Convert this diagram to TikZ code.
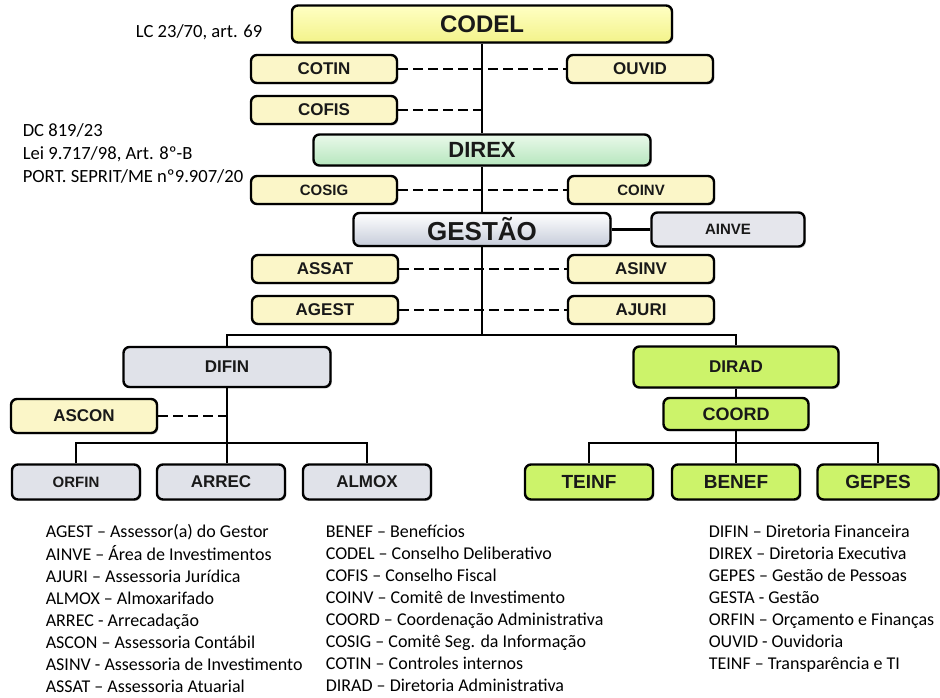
\documentclass[tikz,border=0pt]{standalone}
\usepackage{fontspec}
\setmainfont{Carlito}
\newfontfamily\boxfont{Liberation Sans}
\usepackage{tikz}
\usetikzlibrary{positioning,shadows}
\definecolor{cream}{HTML}{FBF6C8}
\definecolor{codeltop}{HTML}{FFFFC4}
\definecolor{codelbot}{HTML}{F3F38A}
\definecolor{dirextop}{HTML}{EAF9EA}
\definecolor{direxbot}{HTML}{B6E6BE}
\definecolor{gesttop}{HTML}{FFFFFF}
\definecolor{gestbot}{HTML}{C6CCDA}
\definecolor{greybox}{HTML}{E0E2E9}
\definecolor{limebox}{HTML}{CCF36A}
\newcommand\boxtxt[1]{\boxfont\bfseries\fontsize{#1}{#1}\selectfont}

\begin{document}
\begin{tikzpicture}[x=0.5pt,y=-0.5pt,thick,inner sep=0pt]
\tikzstyle{unit}=[rectangle,draw,rounded corners=3pt,line width=1.2pt,text=black!90,
  drop shadow={shadow xshift=0.7pt,shadow yshift=-0.7pt,fill=black!35}]
\tikzstyle{small}=[unit,fill=cream,minimum width=73pt,minimum height=14pt,font=\boxtxt{8.5}]
\tikzstyle{grey}=[unit,fill=greybox,minimum width=64pt,minimum height=17.5pt,font=\boxtxt{8.5}]
\tikzstyle{lime}=[unit,fill=limebox,minimum width=64pt,minimum height=17.5pt,font=\boxtxt{9.5}]
\tikzstyle{link}=[line width=1.1pt]
\tikzstyle{aide}=[line width=1.1pt,dash pattern=on 5pt off 2.5pt]
\tikzstyle{note}=[font=\fontsize{9.3}{11.5}\selectfont,align=left]
\tikzstyle{legend}=[font=\fontsize{9}{11.05}\selectfont,align=left,anchor=north west]
\useasboundingbox (0,0) rectangle (940,697);
% top of the chart
\node[unit,top color=codeltop,bottom color=codelbot,minimum width=190pt,minimum height=18.5pt,font=\boxtxt{12}] (codel) at (482,24) {CODEL};
\node[small] (cotin) at (324,69) {COTIN};
\node[small] (ouvid) at (640,69) {OUVID};
\node[small] (cofis) at (324,110) {COFIS};
\node[unit,top color=dirextop,bottom color=direxbot,minimum width=168.5pt,minimum height=15.5pt,font=\boxtxt{11}] (direx) at (482,150) {DIREX};
\node[small,font=\boxtxt{7.5}] (cosig) at (324,190) {COSIG};
\node[small,font=\boxtxt{7.5}] (coinv) at (641,190) {COINV};
\node[unit,top color=gesttop,bottom color=gestbot,minimum width=128.5pt,minimum height=16.5pt,font=\boxtxt{13}] (gestao) at (482,229.5) {GESTÃO};
\node[unit,fill=greybox!85,minimum width=76.5pt,minimum height=17pt,font=\boxtxt{7.5}] (ainve) at (728,229.5) {AINVE};
\node[small] (assat) at (325,269) {ASSAT};
\node[small] (asinv) at (641,269) {ASINV};
\node[small] (agest) at (325,310) {AGEST};
\node[small] (ajuri) at (641,310) {AJURI};
% directorates
\node[grey,minimum width=103.5pt,minimum height=20pt] (difin) at (227,367) {DIFIN};
\node[small,minimum height=17pt] (ascon) at (84,416) {ASCON};
\node[grey,font=\boxtxt{7.5}] (orfin) at (76,482) {ORFIN};
\node[grey] (arrec) at (221,482) {ARREC};
\node[grey] (almox) at (367,482) {ALMOX};
\node[lime,minimum width=102.5pt,minimum height=20.5pt,font=\boxtxt{8.5}] (dirad) at (736,367) {DIRAD};
\node[lime,minimum width=72.5pt,minimum height=16pt,font=\boxtxt{9}] (coord) at (736,414) {COORD};
\node[lime] (teinf) at (589,482) {TEINF};
\node[lime] (benef) at (736,482) {BENEF};
\node[lime,minimum width=60.5pt] (gepes) at (878,482) {GEPES};
\coordinate (cofisT) at (482,110);
\coordinate (split) at (482,335);
\coordinate (finbar) at (227,443);
\coordinate (admbar) at (736,443);
\draw[link] (codel) -- (direx);
\draw[link] (direx) -- (gestao);
\draw[link] (gestao) -- (split);
\draw[link] (gestao) -- (ainve);
\draw[link] (difin) |- (split) -| (dirad);
\draw[aide] (cotin) -- (ouvid);
\draw[aide] (cofis) -- (cofisT);
\draw[aide] (cosig) -- (coinv);
\draw[aide] (assat) -- (asinv);
\draw[aide] (agest) -- (ajuri);
\draw[link] (difin) -- (difin |- arrec.north);
\draw[aide] (ascon) -- (ascon -| difin);
\draw[link] (orfin) |- (finbar) -| (almox);
\draw[link] (dirad) -- (coord);
\draw[link] (coord) -- (benef);
\draw[link] (teinf) |- (admbar) -| (gepes);
% legal basis
\node[note,anchor=east] (lcref) at (263,32) {LC 23/70, art. 69};
\node[note,anchor=north west] (dcref) at (22,123) {DC 819/23\\Lei 9.717/98, Art. 8º-B\\PORT. SEPRIT/ME nº9.907/20};
% legend
\node[legend] (keya) at (45,524) {AGEST – Assessor(a) do Gestor\\AINVE – Área de Investimentos\\AJURI – Assessoria Jurídica\\ALMOX – Almoxarifado\\ARREC - Arrecadação\\ASCON – Assessoria Contábil\\ASINV - Assessoria de Investimento\\ASSAT – Assessoria Atuarial};
\node[legend] (keyb) at (325,524) {BENEF – Benefícios\\CODEL – Conselho Deliberativo\\COFIS – Conselho Fiscal\\COINV – Comitê de Investimento\\COORD – Coordenação Administrativa\\COSIG – Comitê Seg. da Informação\\COTIN – Controles internos\\DIRAD – Diretoria Administrativa};
\node[legend] (keyc) at (708,524) {DIFIN – Diretoria Financeira\\DIREX – Diretoria Executiva\\GEPES – Gestão de Pessoas\\GESTA - Gestão\\ORFIN – Orçamento e Finanças\\OUVID - Ouvidoria\\TEINF – Transparência e TI};
\end{tikzpicture}
\end{document}
